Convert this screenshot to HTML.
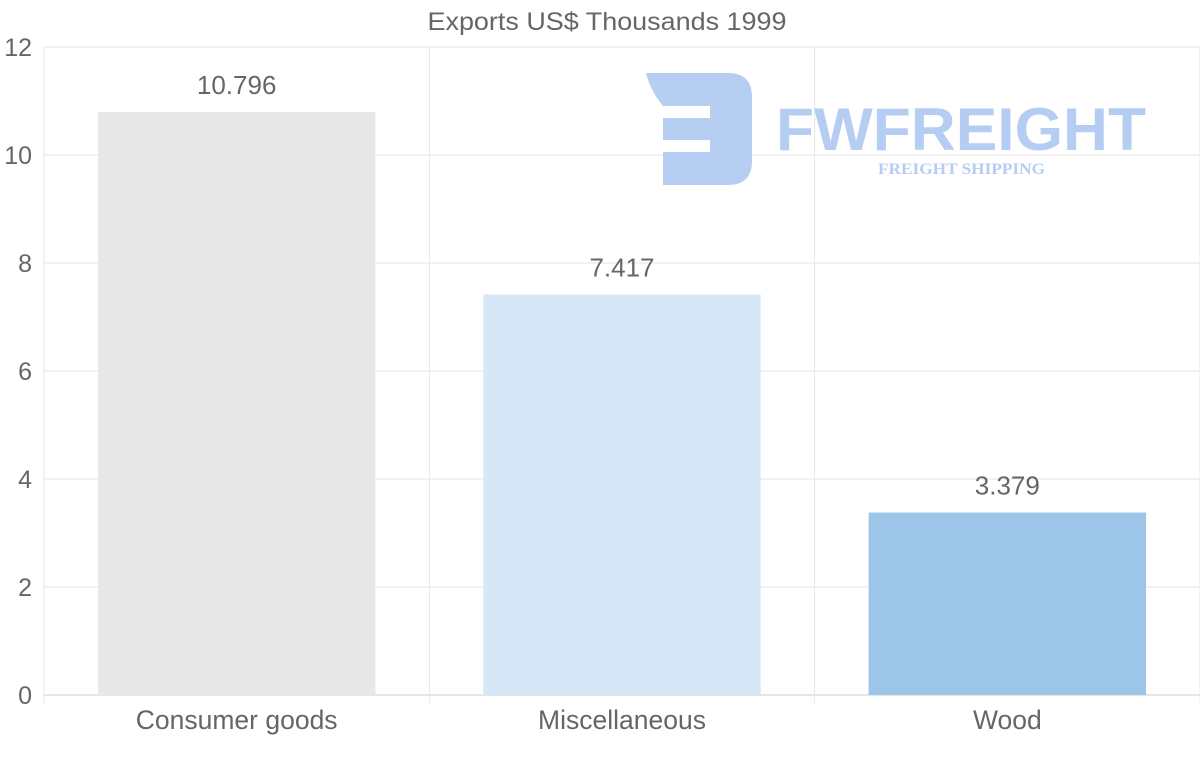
<!DOCTYPE html>
<html><head><meta charset="utf-8"><style>
body{margin:0;background:#fff;}
svg{display:block;font-family:"Liberation Sans",sans-serif;}
</style></head><body>
<svg id="chart" width="1200" height="763">
<text x="607" y="30" text-anchor="middle" font-size="25" fill="#666" textLength="359" lengthAdjust="spacingAndGlyphs">Exports US$ Thousands 1999</text>
<g id="grid"></g>
<g id="watermark" opacity="0.85">
<path d="M646,73 H728 Q752,73 752,97 V161 Q752,185 728,185 H663 V152 H710 V140 H663 V118 H710 V106 H663 Q650,90 646,73 Z" fill="#a9c5f0"/>
<text x="776" y="150" font-size="60" font-weight="bold" fill="#a9c5f0" textLength="370" lengthAdjust="spacingAndGlyphs">FWFREIGHT</text>
<text x="878" y="174" font-size="16" font-weight="bold" font-family="Liberation Serif,serif" fill="#a9c5f0" textLength="167" lengthAdjust="spacingAndGlyphs">FREIGHT SHIPPING</text>
</g>
<g id="bars"></g>
<g id="axes"></g>
</svg>
<script>
const categories = ["Consumer goods","Miscellaneous","Wood"];
const values = [10.796, 7.417, 3.379];
const valueLabels = ["10.796","7.417","3.379"];
const yTicks = [0,2,4,6,8,10,12];
const colors = ["#e8e8e8","#d6e7f8","#9cc5e8"];
const NS="http://www.w3.org/2000/svg";
const L=44,R=1200,T=47,B=695,yMax=12;
const y=v=>B-(v/yMax)*(B-T);
const band=(R-L)/categories.length;
const x=i=>L+band*i;
function mk(tag,attrs,parent,txt){const e=document.createElementNS(NS,tag);for(const k in attrs)e.setAttribute(k,attrs[k]);if(txt!==undefined)e.textContent=txt;parent.appendChild(e);return e;}
const grid=document.getElementById('grid'),bars=document.getElementById('bars'),axes=document.getElementById('axes');
yTicks.forEach(t=>{
  const ln=mk('line',{x1:L,x2:R,y1:y(t),y2:y(t),stroke:t===0?'#ccc':'#e6e6e6','stroke-width':1},grid);
  
  
  const tx=mk('text',{x:32,y:y(t)+9,'text-anchor':'end','font-size':25,fill:'#666'},axes,String(t));
  
  
});
for(let i=0;i<=categories.length;i++){
  const ln=mk('line',{x1:x(i),x2:x(i),y1:T,y2:B+8,stroke:'#e6e6e6','stroke-width':1},grid);
  
  
}
categories.forEach((c,i)=>{
  const bw=band*0.72, bx=x(i)+(band-bw)/2;
  const r=mk('rect',{x:bx,y:y(values[i]),width:bw,height:B-y(values[i]),fill:colors[i]},bars);
  
  
  const vl=mk('text',{x:x(i)+band/2,y:y(values[i])-18,'text-anchor':'middle','font-size':26,fill:'#666'},bars,valueLabels[i]);
  
  
  const xl=mk('text',{x:x(i)+band/2,y:729,'text-anchor':'middle','font-size':26.5,fill:'#666'},axes,c);
  
  
});
</script>
</body></html>
